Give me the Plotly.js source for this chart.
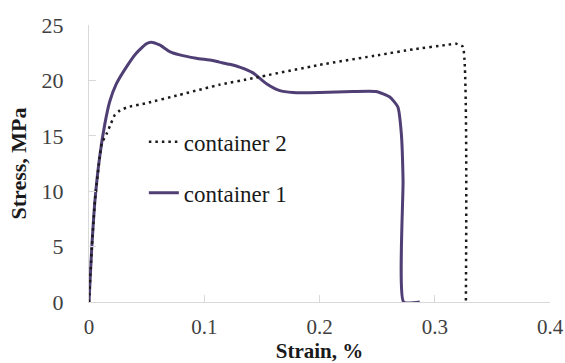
<!DOCTYPE html>
<html>
<head>
<meta charset="utf-8">
<script src="https://cdn.plot.ly/plotly-3.0.1.min.js"></script>
<style>html,body{margin:0;padding:0;background:#fff;}#chart{width:565px;height:363px;}</style>
</head>
<body>
<div id="chart"></div>
<script>
// Container 1 (solid purple)
const strain1 = [0, 0.0023, 0.0052, 0.0094, 0.0138, 0.018, 0.0238, 0.0324, 0.041, 0.0498, 0.054, 0.0613, 0.070, 0.0787, 0.093, 0.107, 0.113, 0.122, 0.1307, 0.142, 0.154, 0.165, 0.177, 0.2, 0.229, 0.249, 0.261, 0.268, 0.271, 0.2725, 0.273, 0.287];
const stress1 = [0, 4.7, 9.2, 13.2, 16.1, 18.1, 19.7, 21.2, 22.45, 23.3, 23.45, 23.2, 22.6, 22.3, 22.0, 21.8, 21.65, 21.45, 21.2, 20.7, 19.7, 19.1, 18.9, 18.9, 19.0, 19.0, 18.5, 17.6, 15.2, 11.0, 0, 0];
// Container 2 (dotted black)
const strain2 = [0, 0.0023, 0.0052, 0.0095, 0.011, 0.0154, 0.019, 0.0225, 0.027, 0.034, 0.0498, 0.0787, 0.113, 0.142, 0.2, 0.252, 0.281, 0.31, 0.3187, 0.3244, 0.327];
const stress2 = [0, 4.7, 9.2, 13.3, 14.3, 15.2, 16.1, 16.9, 17.3, 17.6, 17.95, 18.7, 19.6, 20.2, 21.4, 22.3, 22.8, 23.2, 23.3, 23.05, 0];

const seriesNames = ['container 1', 'container 2'];
const xTicks = [0, 0.1, 0.2, 0.3, 0.4];
const xTickText = ['0', '0.1', '0.2', '0.3', '0.4'];
const yTicks = [0, 5, 10, 15, 20, 25];

const serif = '"Times New Roman", Times, "Liberation Serif", serif';

const traces = [
  {x: strain1, y: stress1, name: seriesNames[0], mode: 'lines', type: 'scatter',
   line: {color: '#4F3F74', width: 3, shape: 'spline', smoothing: 0.5}, legend: 'legend2'},
  {x: strain2, y: stress2, name: seriesNames[1], mode: 'lines', type: 'scatter',
   line: {color: '#1a1a1a', width: 2.5, dash: '2.5px,4px', shape: 'spline', smoothing: 0.4}, legend: 'legend'}
];

const legendFont = {family: serif, size: 23, color: '#1a1a1a'};
const layout = {
  width: 565, height: 363,
  margin: {l: 89, r: 15, t: 25, b: 61},
  paper_bgcolor: '#fff', plot_bgcolor: '#fff',
  font: {family: serif},
  showlegend: true,
  legend: {x: 0.119, xanchor: 'left', y: 0.578, yanchor: 'middle', bgcolor: 'rgba(0,0,0,0)', font: legendFont, borderwidth: 0},
  legend2: {x: 0.119, xanchor: 'left', y: 0.394, yanchor: 'middle', bgcolor: 'rgba(0,0,0,0)', font: legendFont, borderwidth: 0},
  xaxis: {
    range: [0, 0.4], tickvals: xTicks, ticktext: xTickText,
    showgrid: false, zeroline: false, showline: true, linecolor: '#d9d9d9', linewidth: 1,
    ticks: 'inside', ticklen: 7, tickcolor: '#d9d9d9', tickwidth: 1,
    tickfont: {family: serif, size: 21, color: '#404040'}, ticklabelstandoff: 6,
    title: {text: '<b>Strain, %</b>', font: {family: serif, size: 21, color: '#1a1a1a'}, standoff: 0},
    fixedrange: true
  },
  yaxis: {
    range: [0, 25], tickvals: yTicks,
    showgrid: false, zeroline: false, showline: true, linecolor: '#d9d9d9', linewidth: 1,
    ticks: 'inside', ticklen: 7, tickcolor: '#d9d9d9', tickwidth: 1,
    tickfont: {family: serif, size: 22, color: '#404040'}, ticklabelstandoff: 20,
    title: {text: '<b>Stress, MPa</b>', font: {family: serif, size: 22, color: '#1a1a1a'}, standoff: 8},
    fixedrange: true
  }
};

Plotly.newPlot('chart', traces, layout, {displayModeBar: false, staticPlot: true});
</script>
</body>
</html>
